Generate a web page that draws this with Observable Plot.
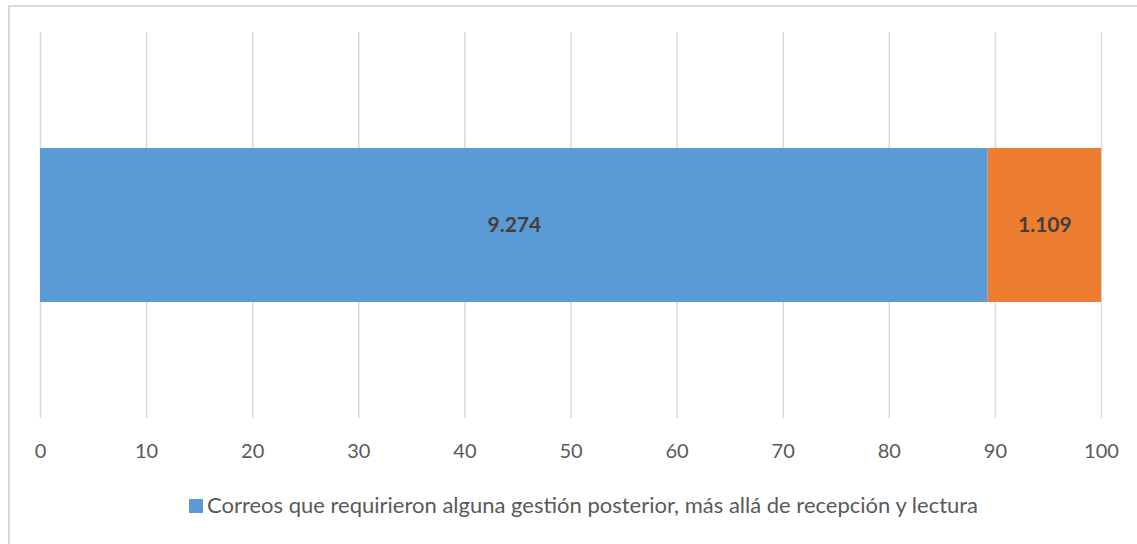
<!DOCTYPE html>
<html>
<head>
<meta charset="utf-8">
<script src="https://cdn.jsdelivr.net/npm/d3@7"></script>
<script src="https://cdn.jsdelivr.net/npm/@observablehq/plot@0.6"></script>
<style>
  body { margin: 0; background: #fff; font-family: Lato, "Open Sans", sans-serif; }
  #frame { position: absolute; left: 8px; top: 5px; width: 1140px; height: 545px; border: 2px solid #d9d9d9; border-right: none; border-bottom: none; box-sizing: border-box; }
  #chart { position: absolute; left: 0; top: 0; }
  #legend { position: absolute; left: 15px; top: 491px; width: 1137px; text-align: center; font-size: 22px; color: #595959; white-space: nowrap; }
  #legend .sw { display: inline-block; width: 14px; height: 14px; background: #5B9BD5; margin-right: 4px; vertical-align: 0px; }
</style>
</head>
<body>
<div id="frame"></div>
<div id="chart"></div>
<div id="legend"></div>
<script>
const categories = ["Correos que requirieron alguna gestión posterior, más allá de recepción y lectura", "Correos sin gestión posterior"];
const values = [9274, 1109];
const colors = ["#5B9BD5", "#ED7D31"];
const xTicks = [0, 10, 20, 30, 40, 50, 60, 70, 80, 90, 100];
const barRow = "Correos";

const total = d3.sum(values);
const fmt = d3.formatLocale({decimal: ",", thousands: ".", grouping: [3], currency: ["", "€"]}).format(",d");
const table = categories.map((c, i) => ({category: c, value: values[i], pct: values[i] / total * 100, label: fmt(values[i]), row: barRow}));

const chart = Plot.plot({
  width: 1137,
  height: 470,
  marginLeft: 40,
  marginRight: 36,
  marginTop: 32,
  marginBottom: 52,
  style: {fontFamily: "Lato, 'Open Sans', sans-serif", fontSize: "20px", color: "#595959", background: "transparent"},
  x: {domain: [0, 100], ticks: xTicks, label: null, tickSize: 0, tickPadding: 25},
  y: {domain: [barRow], padding: 0.4286, axis: null, label: null},
  color: {domain: categories, range: colors},
  marks: [
    Plot.gridX(xTicks, {stroke: "#d9d9d9", strokeOpacity: 1, strokeWidth: 1.5}),
    Plot.barX(table, Plot.stackX({x: "pct", y: "row", fill: "category", order: null})),
    Plot.text(table, Plot.stackX({x: "pct", y: "row", text: "label", order: null, fill: "#404040", fontWeight: "bold", fontSize: 21})),
    Plot.axisX({ticks: xTicks, tickSize: 0, tickPadding: 25, fill: "#595959", fontSize: 20})
  ]
});
document.getElementById("chart").appendChild(chart);

const lg = document.getElementById("legend");
const sw = document.createElement("span");
sw.className = "sw";
lg.appendChild(sw);
lg.appendChild(document.createTextNode(categories[0]));
</script>
</body>
</html>
